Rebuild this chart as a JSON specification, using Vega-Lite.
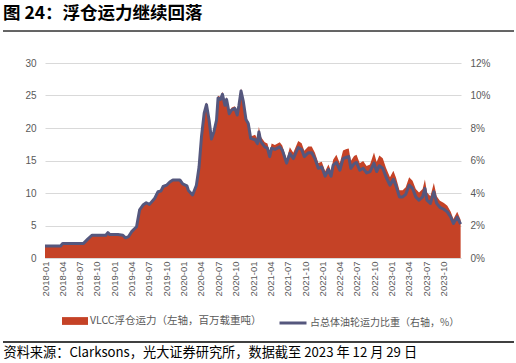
{
  "$schema": "https://vega.github.io/schema/vega-lite/v6.json",
  "width": 416,
  "height": 195,
  "autosize": {"type": "none"},
  "padding": {"left": 45, "top": 63, "right": 55, "bottom": 105},
  "background": "white",
  "title": {"text": "图 24：浮仓运力继续回落", "anchor": "start", "frame": "group", "dx": -42, "offset": 8, "fontSize": 17.5, "font": "Noto Sans CJK SC", "fontWeight": "bold", "color": "#000000"},
  "config": {"view": {"stroke": null}},
  "data": {"values": [
    {"d": "2018-01-01", "v": 1.85, "s": 0.74},
    {"d": "2018-03-24", "v": 1.85, "s": 0.74},
    {"d": "2018-04-04", "v": 2.25, "s": 0.90},
    {"d": "2018-07-23", "v": 2.25, "s": 0.90},
    {"d": "2018-08-14", "v": 2.9, "s": 1.16},
    {"d": "2018-09-05", "v": 3.5, "s": 1.40},
    {"d": "2018-10-16", "v": 3.5, "s": 1.40},
    {"d": "2018-11-17", "v": 3.5, "s": 1.40},
    {"d": "2018-11-28", "v": 3.9, "s": 1.56},
    {"d": "2018-12-08", "v": 3.6, "s": 1.44},
    {"d": "2019-01-20", "v": 3.6, "s": 1.44},
    {"d": "2019-02-15", "v": 3.5, "s": 1.40},
    {"d": "2019-03-01", "v": 3.1, "s": 1.24},
    {"d": "2019-03-17", "v": 3.3, "s": 1.32},
    {"d": "2019-04-02", "v": 4.05, "s": 1.62},
    {"d": "2019-04-28", "v": 4.8, "s": 1.92},
    {"d": "2019-05-14", "v": 7.4, "s": 2.96},
    {"d": "2019-06-01", "v": 8.15, "s": 3.26},
    {"d": "2019-06-18", "v": 8.5, "s": 3.40},
    {"d": "2019-07-05", "v": 8.25, "s": 3.30},
    {"d": "2019-08-02", "v": 9.2, "s": 3.68},
    {"d": "2019-08-19", "v": 10.2, "s": 4.08},
    {"d": "2019-09-03", "v": 10.3, "s": 4.12},
    {"d": "2019-09-15", "v": 11.0, "s": 4.40},
    {"d": "2019-10-03", "v": 11.2, "s": 4.48},
    {"d": "2019-10-20", "v": 11.7, "s": 4.68},
    {"d": "2019-11-05", "v": 12.0, "s": 4.80},
    {"d": "2019-12-12", "v": 12.0, "s": 4.80},
    {"d": "2019-12-27", "v": 11.4, "s": 4.56},
    {"d": "2020-01-18", "v": 11.27, "s": 4.44},
    {"d": "2020-01-26", "v": 10.56, "s": 4.16},
    {"d": "2020-02-17", "v": 9.85, "s": 3.88},
    {"d": "2020-03-08", "v": 11.37, "s": 4.48},
    {"d": "2020-03-22", "v": 14.21, "s": 5.60},
    {"d": "2020-04-04", "v": 18.98, "s": 7.48},
    {"d": "2020-04-18", "v": 22.64, "s": 8.92},
    {"d": "2020-04-30", "v": 23.96, "s": 9.44},
    {"d": "2020-05-14", "v": 21.52, "s": 8.48},
    {"d": "2020-05-26", "v": 18.58, "s": 7.32},
    {"d": "2020-06-08", "v": 19.70, "s": 7.76},
    {"d": "2020-06-22", "v": 21.52, "s": 8.48},
    {"d": "2020-06-30", "v": 24.97, "s": 9.84},
    {"d": "2020-07-13", "v": 24.77, "s": 9.76},
    {"d": "2020-07-23", "v": 25.58, "s": 10.08},
    {"d": "2020-08-05", "v": 23.86, "s": 9.40},
    {"d": "2020-08-14", "v": 24.77, "s": 9.76},
    {"d": "2020-08-28", "v": 22.54, "s": 8.88},
    {"d": "2020-09-10", "v": 23.15, "s": 9.12},
    {"d": "2020-09-27", "v": 23.35, "s": 9.20},
    {"d": "2020-10-09", "v": 22.34, "s": 8.80},
    {"d": "2020-10-18", "v": 23.86, "s": 9.40},
    {"d": "2020-10-29", "v": 26.09, "s": 10.28},
    {"d": "2020-11-10", "v": 24.47, "s": 9.64},
    {"d": "2020-11-24", "v": 21.62, "s": 8.52},
    {"d": "2020-12-06", "v": 21.02, "s": 8.28},
    {"d": "2020-12-19", "v": 18.68, "s": 7.36},
    {"d": "2021-01-11", "v": 18.96, "s": 7.28},
    {"d": "2021-01-23", "v": 18.33, "s": 7.04},
    {"d": "2021-01-31", "v": 20.21, "s": 7.76},
    {"d": "2021-02-10", "v": 18.65, "s": 7.16},
    {"d": "2021-03-03", "v": 17.81, "s": 6.84},
    {"d": "2021-03-17", "v": 17.60, "s": 6.76},
    {"d": "2021-03-29", "v": 16.25, "s": 6.24},
    {"d": "2021-04-08", "v": 17.60, "s": 6.76},
    {"d": "2021-04-25", "v": 17.40, "s": 6.68},
    {"d": "2021-05-21", "v": 17.81, "s": 6.84},
    {"d": "2021-06-03", "v": 17.29, "s": 6.64},
    {"d": "2021-06-26", "v": 15.21, "s": 5.84},
    {"d": "2021-07-13", "v": 17.04, "s": 6.44},
    {"d": "2021-07-31", "v": 16.19, "s": 6.12},
    {"d": "2021-08-26", "v": 17.99, "s": 6.80},
    {"d": "2021-09-13", "v": 17.67, "s": 6.68},
    {"d": "2021-09-27", "v": 16.51, "s": 6.24},
    {"d": "2021-10-18", "v": 17.14, "s": 6.48},
    {"d": "2021-11-05", "v": 17.14, "s": 6.48},
    {"d": "2021-11-22", "v": 16.19, "s": 6.12},
    {"d": "2021-12-10", "v": 14.60, "s": 5.52},
    {"d": "2021-12-28", "v": 14.81, "s": 5.60},
    {"d": "2022-01-15", "v": 13.33, "s": 5.04},
    {"d": "2022-02-01", "v": 14.39, "s": 5.44},
    {"d": "2022-02-15", "v": 13.33, "s": 5.04},
    {"d": "2022-02-26", "v": 15.13, "s": 5.72},
    {"d": "2022-03-15", "v": 15.89, "s": 5.88},
    {"d": "2022-04-02", "v": 14.59, "s": 5.40},
    {"d": "2022-04-19", "v": 16.54, "s": 6.12},
    {"d": "2022-05-07", "v": 16.76, "s": 6.20},
    {"d": "2022-05-19", "v": 16.86, "s": 6.24},
    {"d": "2022-05-30", "v": 14.92, "s": 5.52},
    {"d": "2022-06-16", "v": 15.68, "s": 5.80},
    {"d": "2022-06-29", "v": 15.89, "s": 5.88},
    {"d": "2022-07-16", "v": 14.59, "s": 5.40},
    {"d": "2022-08-03", "v": 14.92, "s": 5.52},
    {"d": "2022-08-21", "v": 14.16, "s": 5.24},
    {"d": "2022-09-08", "v": 14.38, "s": 5.32},
    {"d": "2022-09-29", "v": 16.22, "s": 5.84},
    {"d": "2022-10-13", "v": 14.78, "s": 5.32},
    {"d": "2022-10-27", "v": 15.78, "s": 5.68},
    {"d": "2022-11-14", "v": 15.33, "s": 5.52},
    {"d": "2022-12-01", "v": 13.89, "s": 5.00},
    {"d": "2022-12-22", "v": 12.44, "s": 4.48},
    {"d": "2023-01-09", "v": 13.44, "s": 4.84},
    {"d": "2023-01-23", "v": 12.33, "s": 4.44},
    {"d": "2023-02-10", "v": 10.44, "s": 3.76},
    {"d": "2023-02-27", "v": 10.44, "s": 3.76},
    {"d": "2023-03-15", "v": 10.89, "s": 3.92},
    {"d": "2023-04-02", "v": 12.44, "s": 4.48},
    {"d": "2023-04-20", "v": 11.89, "s": 4.28},
    {"d": "2023-05-07", "v": 10.62, "s": 3.76},
    {"d": "2023-05-24", "v": 10.06, "s": 3.56},
    {"d": "2023-06-12", "v": 10.62, "s": 3.76},
    {"d": "2023-06-24", "v": 12.09, "s": 4.28},
    {"d": "2023-07-05", "v": 10.06, "s": 3.56},
    {"d": "2023-07-23", "v": 9.49, "s": 3.36},
    {"d": "2023-08-10", "v": 11.53, "s": 4.08},
    {"d": "2023-08-25", "v": 9.49, "s": 3.36},
    {"d": "2023-09-11", "v": 8.81, "s": 3.12},
    {"d": "2023-10-02", "v": 8.48, "s": 3.00},
    {"d": "2023-10-20", "v": 8.02, "s": 2.84},
    {"d": "2023-11-07", "v": 7.12, "s": 2.52},
    {"d": "2023-11-21", "v": 5.99, "s": 2.12},
    {"d": "2023-12-11", "v": 7.12, "s": 2.52},
    {"d": "2023-12-29", "v": 5.88, "s": 2.08}
  ]},
  "layer": [
    {
      "mark": {"type": "area", "interpolate": "linear"},
      "encoding": {
        "x": {
          "field": "d", "type": "temporal",
          "scale": {"type": "utc", "domain": [{"year": 2018, "month": 1, "date": 1, "utc": true}, {"year": 2023, "month": 12, "date": 31, "utc": true}]},
          "axis": {
            "tickCount": {"interval": "month", "step": 3},
            "format": "%Y-%m",
            "labelAngle": -90,
            "labelOverlap": false,
            "labelFlush": false,
            "labelFont": "Liberation Sans",
            "labelFontSize": 9.5,
            "labelColor": "#595959",
            "labelPadding": 7,
            "domainColor": "#d9d9d9",
            "tickColor": "#d9d9d9",
            "tickSize": -4,
            "grid": false,
            "title": "资料来源：Clarksons，光大证券研究所，数据截至 2023 年 12 月 29 日",
            "titleX": -42,
            "titleY": 98,
            "titleAlign": "left",
            "titleBaseline": "alphabetic",
            "titleAngle": 0,
            "titleFont": "Noto Sans CJK SC",
            "titleFontSize": 13.2,
            "titleFontWeight": "normal",
            "titleColor": "#000000"
          }
        },
        "y": {
          "field": "v", "type": "quantitative",
          "scale": {"domain": [0, 30]},
          "axis": {"values": [0, 5, 10, 15, 20, 25, 30], "title": null, "grid": true, "gridColor": "#d9d9d9", "domain": false, "ticks": false, "labelPadding": 9, "labelFont": "Liberation Sans", "labelFontSize": 10, "labelColor": "#595959"}
        },
        "fill": {
          "datum": "VLCC浮仓运力（左轴，百万载重吨）",
          "scale": {"range": ["#c54226"]},
          "legend": {"title": null, "orient": "none", "legendX": 17, "legendY": 245, "padding": 0, "symbolType": "M-1,-0.3H1V0.3H-1Z", "symbolSize": 676, "symbolStrokeWidth": 0, "symbolOpacity": 1, "labelFont": "Noto Sans CJK SC", "labelFontSize": 10.5, "labelColor": "#595959", "labelOffset": 2, "labelLimit": 400}
        }
      }
    },
    {
      "mark": {"type": "line", "strokeWidth": 3, "strokeJoin": "round"},
      "encoding": {
        "x": {"field": "d", "type": "temporal", "scale": {"type": "utc", "domain": [{"year": 2018, "month": 1, "date": 1, "utc": true}, {"year": 2023, "month": 12, "date": 31, "utc": true}]}},
        "y": {
          "field": "s", "type": "quantitative",
          "scale": {"domain": [0, 12]},
          "axis": {"orient": "right", "values": [0, 2, 4, 6, 8, 10, 12], "labelExpr": "datum.value + '%'", "title": null, "grid": false, "domain": false, "ticks": false, "labelPadding": 9, "labelFont": "Liberation Sans", "labelFontSize": 10, "labelColor": "#595959"}
        },
        "stroke": {
          "datum": "占总体油轮运力比重（右轴，%）",
          "scale": {"range": ["#55577d"]},
          "legend": {"title": null, "orient": "none", "legendX": 233, "legendY": 245, "padding": 0, "symbolType": "stroke", "symbolSize": 729, "symbolStrokeWidth": 3, "labelFont": "Noto Sans CJK SC", "labelFontSize": 10, "labelColor": "#595959", "labelOffset": 2, "labelLimit": 400}
        }
      }
    },
    {
      "mark": {"type": "rule", "color": "#666666", "strokeWidth": 1.3, "clip": false},
      "encoding": {
        "x": {"datum": {"year": 2017, "month": 5, "date": 25, "utc": true}, "type": "temporal", "scale": {"type": "utc", "domain": [{"year": 2018, "month": 1, "date": 1, "utc": true}, {"year": 2023, "month": 12, "date": 31, "utc": true}]}},
        "x2": {"datum": {"year": 2024, "month": 10, "date": 1, "utc": true}},
        "y": {"datum": 34.97, "type": "quantitative", "scale": {"domain": [0, 30]}, "axis": null}
      }
    },
    {
      "mark": {"type": "rule", "color": "#404040", "strokeWidth": 1.2, "clip": false},
      "encoding": {
        "x": {"datum": {"year": 2017, "month": 5, "date": 25, "utc": true}, "type": "temporal", "scale": {"type": "utc", "domain": [{"year": 2018, "month": 1, "date": 1, "utc": true}, {"year": 2023, "month": 12, "date": 31, "utc": true}]}},
        "x2": {"datum": {"year": 2024, "month": 10, "date": 1, "utc": true}},
        "y": {"datum": -12.88, "type": "quantitative", "scale": {"domain": [0, 30]}, "axis": null}
      }
    }
  ],
  "resolve": {"scale": {"y": "independent"}}
}
